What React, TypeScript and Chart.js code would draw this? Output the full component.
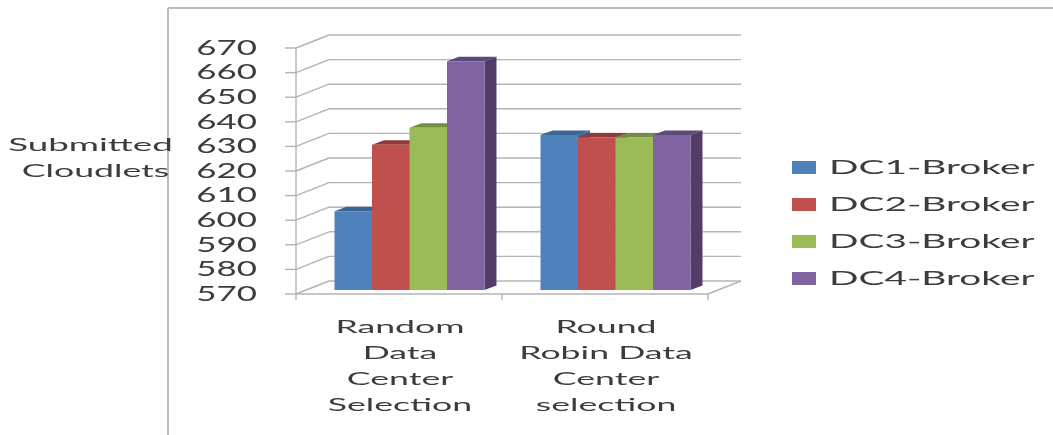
import React, { useEffect, useRef } from "react";
import { Chart, registerables } from "chart.js";

Chart.register(...registerables);

const categories: string[][] = [
  ["Random", "Data", "Center", "Selection"],
  ["Round", "Robin Data", "Center", "selection"],
];
const seriesNames = ["DC1-Broker", "DC2-Broker", "DC3-Broker", "DC4-Broker"];
const dc1Values = [602, 633];
const dc2Values = [629, 632];
const dc3Values = [636, 632];
const dc4Values = [663, 633];
const faceColors = ["#4F81BD", "#C0504D", "#9BBB59", "#8064A2"];
const topColors = ["#3A6595", "#8F3A37", "#748E41", "#5E4A7A"];
const sideColors = ["#3A6595", "#8F3A37", "#748E41", "#533D68"];
const axisTitle = ["Submitted", "Cloudlets"];

const GRID = "#b4b4b4";
const TEXT = "#3c3c3c";
const FONT = "Lato";
// Depth of the floor and walls, and of the bars standing halfway inside it.
const WALL_DX = 33;
const WALL_DY = 13;
const BAR_DX = 10.5;
const BAR_DY = 4;
const BAR_DEPTH_X = 12;
const BAR_DEPTH_Y = 4.5;

function line(ctx: CanvasRenderingContext2D, x1: number, y1: number, x2: number, y2: number) {
  ctx.beginPath();
  ctx.moveTo(x1, y1);
  ctx.lineTo(x2, y2);
  ctx.stroke();
}

// Horizontally widened text, centred vertically on y.
function wideText(
  ctx: CanvasRenderingContext2D,
  text: string,
  x: number,
  y: number,
  size: number,
  stretch: number,
  align: CanvasTextAlign,
) {
  ctx.save();
  ctx.translate(x, y);
  ctx.scale(stretch, 1);
  ctx.font = `${size}px ${FONT}`;
  ctx.fillStyle = TEXT;
  ctx.textAlign = align;
  ctx.textBaseline = "middle";
  ctx.fillText(text, 0, 0);
  ctx.restore();
}

function polygon(ctx: CanvasRenderingContext2D, pts: number[][], fill: string) {
  ctx.fillStyle = fill;
  ctx.beginPath();
  pts.forEach(([x, y], i) => (i ? ctx.lineTo(x, y) : ctx.moveTo(x, y)));
  ctx.closePath();
  ctx.fill();
}

const perspectivePlugin = {
  id: "perspective",
  beforeDatasetsDraw(chart: any) {
    const { ctx, chartArea, scales } = chart;
    const { left, right, bottom, top } = chartArea;
    const yScale = scales.y;
    ctx.save();

    // Outer frame of the chart object
    ctx.strokeStyle = "#bdbdbd";
    ctx.lineWidth = 2;
    line(ctx, 168, 8, 1053, 8);
    line(ctx, 168, 8, 168, 435);

    // Back wall, side wall and floor
    ctx.strokeStyle = GRID;
    ctx.lineWidth = 1.4;
    yScale.ticks.forEach((tick: any) => {
      const y = yScale.getPixelForValue(tick.value);
      line(ctx, left - 11, y, left, y);
      line(ctx, left, y, left + WALL_DX, y - WALL_DY);
      line(ctx, left + WALL_DX, y - WALL_DY, right + WALL_DX, y - WALL_DY);
    });
    line(ctx, left, top, left, bottom + 6);
    line(ctx, left, bottom, right, bottom);
    line(ctx, right, bottom, right + WALL_DX, bottom - WALL_DY);
    const mid = (left + right) / 2;
    line(ctx, mid, bottom, mid, bottom + 6);
    line(ctx, right, bottom, right, bottom + 6);

    // Top and side faces sit behind the front faces of the bars
    ctx.translate(BAR_DX, -BAR_DY);
    const floor = yScale.getPixelForValue(yScale.min);
    chart.data.datasets.forEach((_: any, di: number) => {
      chart.getDatasetMeta(di).data.forEach((bar: any) => {
        const l = bar.x - bar.width / 2;
        const r = bar.x + bar.width / 2;
        polygon(ctx, [[l, bar.y], [l + BAR_DEPTH_X, bar.y - BAR_DEPTH_Y], [r + BAR_DEPTH_X, bar.y - BAR_DEPTH_Y], [r, bar.y]], topColors[di]);
        polygon(ctx, [[r, bar.y], [r + BAR_DEPTH_X, bar.y - BAR_DEPTH_Y], [r + BAR_DEPTH_X, floor - BAR_DEPTH_Y], [r, floor]], sideColors[di]);
      });
    });
    ctx.restore();

    // The front faces are drawn by the bar controller in the shifted plane
    ctx.save();
    ctx.translate(BAR_DX, -BAR_DY);
  },
  afterDatasetsDraw(chart: any) {
    chart.ctx.restore();
  },
  afterDraw(chart: any) {
    const { ctx, scales } = chart;
    const yScale = scales.y;
    const xScale = scales.x;

    yScale.ticks.forEach((tick: any) => {
      wideText(ctx, String(tick.value), 257, yScale.getPixelForValue(tick.value), 21, 1.66, "right");
    });

    wideText(ctx, axisTitle[0], 90.5, 145, 18, 2.04, "center");
    wideText(ctx, axisTitle[1], 95.5, 171, 18, 1.98, "center");

    categories.forEach((lines, i) => {
      const x = xScale.getPixelForValue(i) + 1;
      lines.forEach((text, li) => {
        wideText(ctx, text, x, 327 + li * 26, 18, 1.98, "center");
      });
    });

    chart.data.datasets.forEach((ds: any, i: number) => {
      const y = 167.5 + i * 37;
      ctx.fillStyle = faceColors[i];
      ctx.fillRect(792, y - 6.5, 24, 13);
      wideText(ctx, ds.label, 829, y, 20, 1.94, "left");
    });
  },
};

export default function App() {
  const canvasRef = useRef<HTMLCanvasElement>(null);

  useEffect(() => {
    const seriesValues = [dc1Values, dc2Values, dc3Values, dc4Values];
    const chart = new Chart(canvasRef.current as HTMLCanvasElement, {
      type: "bar",
      data: {
        labels: categories.map((c) => c.join(" ")),
        datasets: seriesNames.map((label, i) => ({
          label,
          data: seriesValues[i],
          backgroundColor: faceColors[i],
          borderWidth: 0,
          barPercentage: 1,
          categoryPercentage: 0.728,
        })),
      },
      options: {
        animation: false,
        responsive: false,
        devicePixelRatio: 1,
        layout: { padding: { left: 296, right: 345, top: 48, bottom: 141 } },
        plugins: { legend: { display: false }, tooltip: { enabled: false } },
        scales: {
          x: { display: false },
          y: { display: false, min: 570, max: 670, ticks: { stepSize: 10 } },
        },
      },
      plugins: [perspectivePlugin],
    });
    return () => chart.destroy();
  }, []);

  return (
    <div style={{ position: "fixed", left: 0, top: 0, width: 1053, height: 435, background: "#fff" }}>
      <canvas ref={canvasRef} width={1053} height={435} style={{ display: "block" }} />
    </div>
  );
}
